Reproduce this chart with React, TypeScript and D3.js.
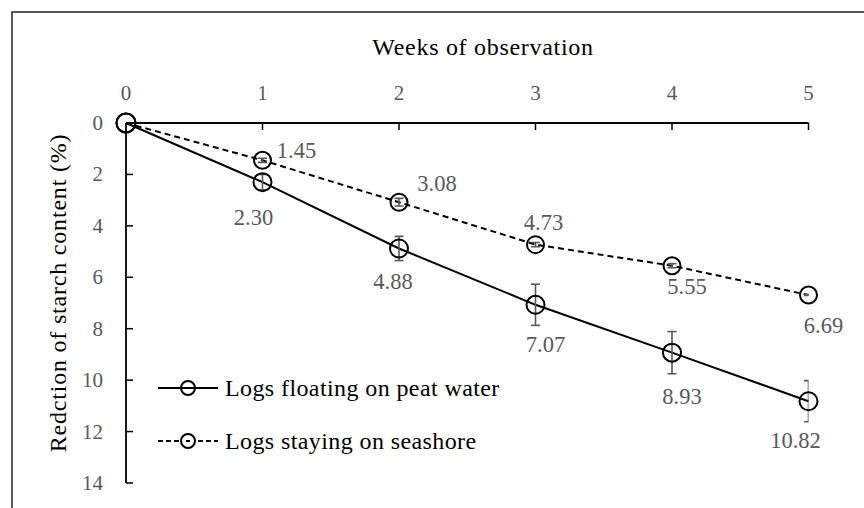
import React from "react";
import * as d3 from "d3";

const weeks = [0, 1, 2, 3, 4, 5];
const xTicks = [0, 1, 2, 3, 4, 5];
const yTicks = [0, 2, 4, 6, 8, 10, 12, 14];
const peatValues = [0, 2.3, 4.88, 7.07, 8.93, 10.82];
const peatErrors = [0, 0.3, 0.47, 0.8, 0.82, 0.8];
const shoreValues = [0, 1.45, 3.08, 4.73, 5.55, 6.69];
const shoreErrors = [0, 0.08, 0.15, 0.08, 0.08, 0.02];
const peatLabelOffsets = [null, [-9, 35], [-6, 33], [10, 40], [10, 44], [-13, 39]];
const shoreLabelOffsets = [null, [34, -10], [38, -19], [8, -22], [15, 21], [15, 30]];
const xTitle = "Weeks of observation";
const yTitle = "Redction of starch content (%)";
const legendNames = ["Logs floating on peat water", "Logs staying on seashore"];

const W = 864;
const H = 508;
const GRAY = "#595959";
const CSS = `svg text { font-family: "Liberation Serif", "Tinos", "Times New Roman" !important; }`;

export default function App() {
  const x = d3.scaleLinear().domain([0, 5]).range([126, 808.5]);
  const y = d3.scaleLinear().domain([0, 14]).range([123, 483]);
  const line = d3
    .line()
    .x((_: any, i: number) => x(weeks[i]))
    .y((d: any) => y(d));

  const series = [
    { values: peatValues, errors: peatErrors, offsets: peatLabelOffsets, dash: undefined, r: 9 },
    { values: shoreValues, errors: shoreErrors, offsets: shoreLabelOffsets, dash: "6,4", r: 8.5 },
  ];

  const x0 = x(0);
  const x1 = x(5);
  const yTop = y(0);
  const yBot = y(14);

  return (
    <svg width={W} height={H} style={{ position: "absolute", left: 0, top: 0, background: "#fff" }}>
      <style>{CSS}</style>
      <defs>
        <clipPath id="plotClip">
          <rect x={x0 - 20} y={yTop - 20} width={x1 - x0 + 20} height={yBot - yTop + 40} />
        </clipPath>
      </defs>
      <rect x={12} y={12} width={W} height={H} fill="#fff" stroke="#000" strokeWidth={1.3} />

      <g fontFamily="Liberation Serif">
        {/* X axis (top) */}
        <line x1={x0} x2={x1} y1={yTop} y2={yTop} stroke="#000" strokeWidth={1.8} />
        {xTicks.map((t) => (
          <g key={"xt" + t}>
            {t > 0 && (
              <line x1={x(t)} x2={x(t)} y1={yTop} y2={yTop + 7} stroke="#000" strokeWidth={1.5} />
            )}
            <text x={x(t)} y={100} textAnchor="middle" fontSize={21} fill={GRAY}>
              {t}
            </text>
          </g>
        ))}
        <text x={483} y={55} textAnchor="middle" fontSize={24} letterSpacing={0.7} fill="#000">
          {xTitle}
        </text>

        {/* Y axis */}
        <line x1={x0} x2={x0} y1={yTop} y2={yBot} stroke="#000" strokeWidth={1.8} />
        {yTicks.map((t) => (
          <g key={"yt" + t}>
            {t > 0 && (
              <line x1={x0} x2={x0 + 7} y1={y(t)} y2={y(t)} stroke="#000" strokeWidth={1.5} />
            )}
            <text x={103} y={y(t) + 7} textAnchor="end" fontSize={21} fill={GRAY}>
              {t}
            </text>
          </g>
        ))}
        <text
          transform={`translate(66, 293) rotate(-90)`}
          textAnchor="middle"
          fontSize={24}
          letterSpacing={0.8}
          fill="#000"
        >
          {yTitle}
        </text>

        {/* Series */}
        {series.map((s, si) => (
          <g key={"s" + si}>
            <path
              d={line(s.values as any) || ""}
              fill="none"
              stroke="#000"
              strokeWidth={2}
              strokeDasharray={s.dash}
            />
            <g clipPath="url(#plotClip)">
              {s.values.map((v, i) =>
                s.errors[i] > 0 ? (
                  <g key={"e" + i} stroke={GRAY} strokeWidth={1.6}>
                    <line x1={x(weeks[i])} x2={x(weeks[i])} y1={y(v - s.errors[i])} y2={y(v + s.errors[i])} />
                    <line x1={x(weeks[i]) - 4.5} x2={x(weeks[i]) + 4.5} y1={y(v - s.errors[i])} y2={y(v - s.errors[i])} />
                    <line x1={x(weeks[i]) - 4.5} x2={x(weeks[i]) + 4.5} y1={y(v + s.errors[i])} y2={y(v + s.errors[i])} />
                  </g>
                ) : null
              )}
            </g>
            {s.values.map((v, i) => (
              <circle
                key={"m" + i}
                cx={x(weeks[i])}
                cy={y(v)}
                r={i === 0 ? 9.5 : s.r}
                fill="none"
                stroke="#000"
                strokeWidth={2}
              />
            ))}
            {s.values.map((v, i) => {
              const off = s.offsets[i];
              if (!off) return null;
              return (
                <text
                  key={"l" + i}
                  x={x(weeks[i]) + off[0]}
                  y={y(v) + off[1] + 7.5}
                  textAnchor="middle"
                  fontSize={22.5}
                  fill={GRAY}
                >
                  {v.toFixed(2)}
                </text>
              );
            })}
          </g>
        ))}

        {/* Legend */}
        {legendNames.map((name, i) => {
          const ly = i === 0 ? 388 : 441;
          return (
            <g key={"lg" + i}>
              <line
                x1={158}
                x2={218}
                y1={ly}
                y2={ly}
                stroke="#000"
                strokeWidth={2}
                strokeDasharray={i === 0 ? undefined : "5,3"}
              />
              <circle cx={188} cy={ly} r={7} fill="#fff" stroke="#000" strokeWidth={2} />
              {i === 0 ? (
                <line x1={181} x2={195} y1={ly} y2={ly} stroke="#000" strokeWidth={2} />
              ) : (
                <line x1={186} x2={190} y1={ly} y2={ly} stroke="#000" strokeWidth={2} />
              )}
              <text x={225} y={ly + 8} fontSize={24} letterSpacing={0.4} fill="#000">
                {name}
              </text>
            </g>
          );
        })}
      </g>
    </svg>
  );
}
